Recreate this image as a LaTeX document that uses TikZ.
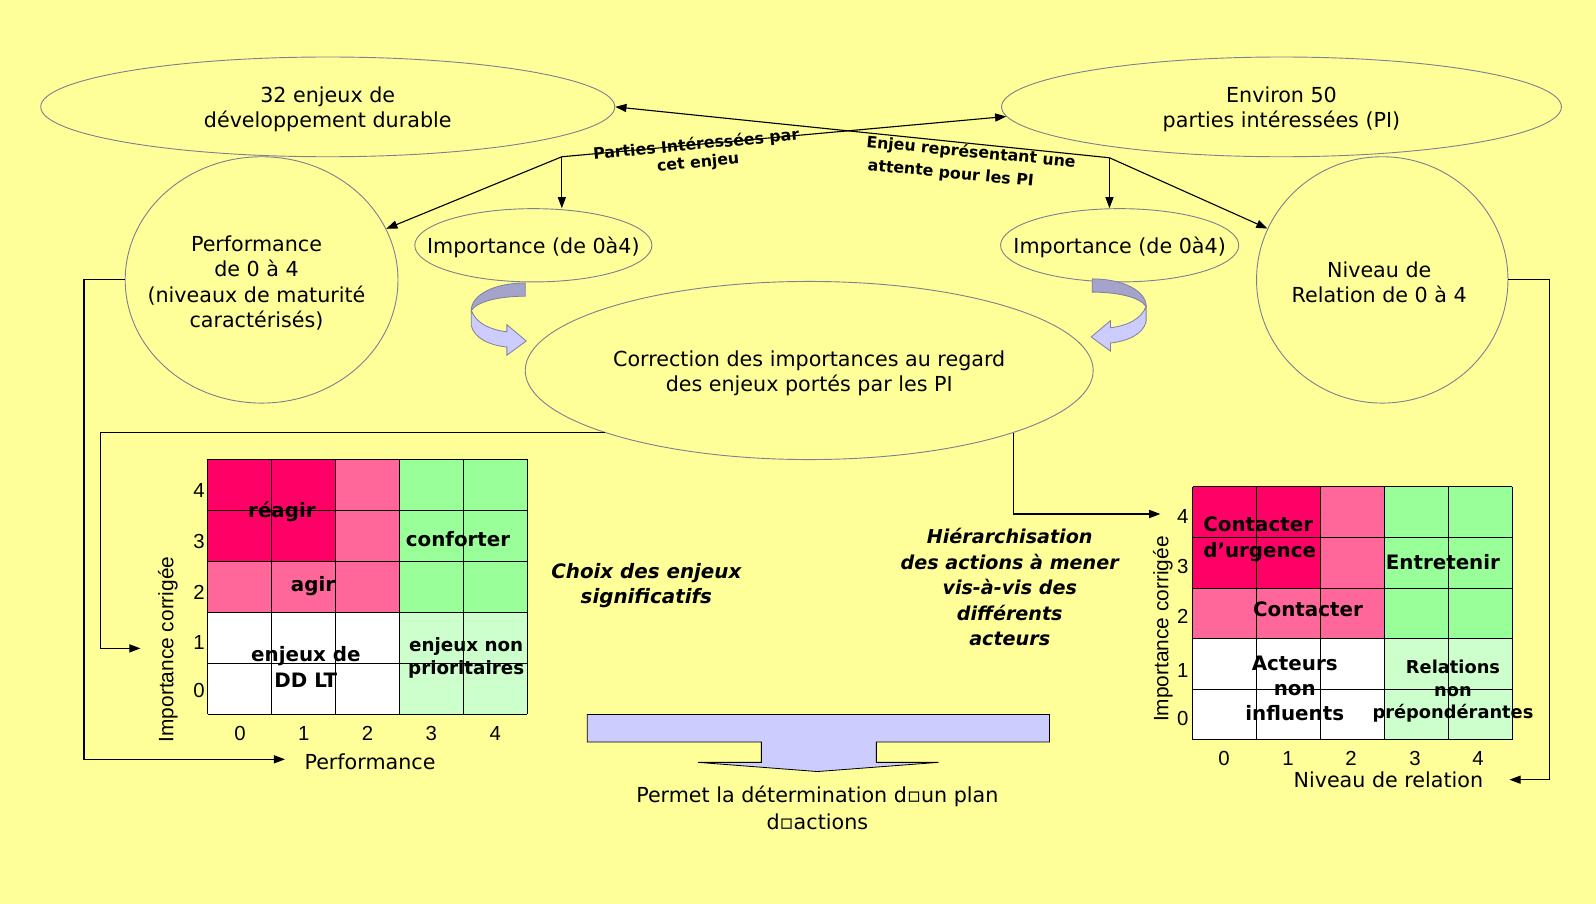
\documentclass[tikz,border=0pt]{standalone}
\usepackage{fontspec}
\setmainfont{DejaVu Sans}
\newfontfamily\arialf{Liberation Sans}
\usetikzlibrary{shapes.geometric,arrows.meta,calc}
\definecolor{bg}{HTML}{FFFF99}
\definecolor{hot}{HTML}{FF0066}
\definecolor{pnk}{HTML}{FF6699}
\definecolor{grn}{HTML}{99FF99}
\definecolor{lgrn}{HTML}{CCFFCC}
\definecolor{ellc}{HTML}{80808F}
\definecolor{arrd}{HTML}{A3A3CC}
\definecolor{arrl}{HTML}{CCCCFF}
\definecolor{arre}{HTML}{7F7F9F}
\newcommand\mycurvarrow{%
  \filldraw[fill=arrd, draw=arre, line width=0.8pt] (516,278) -- (516,291) .. controls (494,291) and (470,295) .. (463,305) .. controls (463,290) and (485,278) .. (516,278) -- cycle;
  \filldraw[fill=arrl, draw=arre, line width=0.8pt] (463,305) -- (463,320) .. controls (466,332) and (480,339) .. (498,341) -- (498,349) -- (517,335) -- (498,319) -- (498,326) .. controls (482,324) and (468,318) .. (463,305) -- cycle;}
\newcommand\mymatrix{%
  \fill[hot] (0,0) rectangle (2,2);
  \fill[pnk] (2,0) rectangle (3,2);
  \fill[pnk] (0,2) rectangle (3,3);
  \fill[grn] (3,0) rectangle (5,3);
  \fill[white] (0,3) rectangle (3,5);
  \fill[lgrn] (3,3) rectangle (5,5);
  \foreach \i in {0,...,5} {\draw[gline] (\i,0) -- (\i,5); \draw[gline] (0,\i) -- (5,\i);}}
\begin{document}
\begin{tikzpicture}[x=1pt,y=-1pt,
  bub/.style={ellipse, draw=ellc, fill=bg, line width=0.9pt, inner sep=0pt},
  txt/.style={font=\fontsize{20.3}{25}\selectfont, align=center, inner sep=0pt, yshift=-2.5pt},
  glab/.style={font=\fontsize{19.5}{25}\selectfont\bfseries, inner sep=0pt},
  num/.style={font=\arialf\fontsize{20}{22}\selectfont, inner sep=0pt},
  ylab/.style={font=\arialf\fontsize{20.5}{22}\selectfont, inner sep=0pt, rotate=90},
  rlab/.style={font=\fontsize{15.5}{18}\selectfont\bfseries, inner sep=0pt},
  itl/.style={font=\fontsize{19.5}{25}\selectfont\bfseries\itshape, align=center, inner sep=0pt},
  gline/.style={draw=black, line width=0.9pt},
  conn/.style={draw=black, line width=1.1pt, -{Triangle[length=11pt,width=8pt]}}]
\useasboundingbox (0,0) rectangle (1568,888);
\fill[bg] (0,0) rectangle (1568,888);

% bubbles
\node[bub, minimum width=564pt, minimum height=98pt] (enj) at (322,105) {};
\node[bub, minimum width=550pt, minimum height=98pt] (pi) at (1259,105) {};
\node[bub, minimum width=268pt, minimum height=242pt] (perf) at (257,275) {};
\node[bub, minimum width=247pt, minimum height=242pt] (niv) at (1358,275) {};
\node[bub, minimum width=233pt, minimum height=72pt] (imL) at (524,241) {};
\node[bub, minimum width=234pt, minimum height=72pt] (imR) at (1100,241) {};
\node[bub, minimum width=558pt, minimum height=175pt] (corr) at (795,364) {};

\node[txt] (enjT) at (enj) {32 enjeux de\\développement durable};
\node[txt] (piT) at (pi) {Environ 50\\parties intéressées (PI)};
\node[txt] (perfT) at (252,275.5) {Performance\\de 0 à 4\\(niveaux de maturité\\caractérisés)};
\node[txt] (nivT) at (1355,275) {Niveau de\\Relation de 0 à 4};
\node[txt] (imLT) at (imL) {Importance (de 0à4)};
\node[txt] (imRT) at (imR) {Importance (de 0à4)};
\node[txt] (corrT) at (corr) {Correction des importances au regard\\des enjeux portés par les PI};

% top connectors
\coordinate (j1) at (552,154);
\coordinate (j2) at (1090,155);
\draw[conn] (j1) -- (pi.182);
\draw[conn] (j2) -- (enj.east);
\draw[conn] (j1) -- (j1 |- imL.north);
\draw[conn] (j1) -- (perf);
\draw[conn] (j2) -- (j2 |- imR.north);
\draw[conn] (j2) -- (niv);
\node[rlab, rotate=5.5] (lab1a) at (684,142.5) {Parties Intéressées par};
\node[rlab, rotate=5.5] (lab1b) at (686,160.5) {cet enjeu};
\node[rlab, rotate=-5.5] (lab2a) at (954,150) {Enjeu représentant une};
\node[rlab, rotate=-5.5] (lab2b) at (934,171) {attente pour les PI};

% curved arrows
\mycurvarrow
\begin{scope}[xshift=1589pt, xscale=-1, yshift=4pt]
\mycurvarrow
\end{scope}

% matrices
\begin{scope}[shift={(204.3,451)}, x=62.7pt, y=-50.1pt]
\mymatrix
\end{scope}
\begin{scope}[shift={(1172,478.4)}, x=62.7pt, y=-49.7pt]
\mymatrix
\end{scope}

% left matrix labels
\node[glab] (reagir) at (277,503) {réagir};
\node[glab] (conf) at (450,530) {conforter};
\node[glab] (agir) at (307.5,576) {agir};
\node[glab, align=center, font=\fontsize{19.5}{26}\selectfont\bfseries] (ddlt) at (300.5,655) {enjeux de\\DD LT};
\node[glab, align=center, font=\fontsize{18}{22.5}\selectfont\bfseries] (nonprio) at (458,646) {enjeux non\\prioritaires};
\foreach \v/\y in {4/482,3/531.5,2/581.6,1/631.7,0/678.8} \node[num] (yl\v) at (195.5,\y) {\v};
\foreach \v/\x in {0/235.7,1/298.4,2/361.1,3/423.8,4/486.5} \node[num] (xl\v) at (\x,721) {\v};
\node[ylab] (ylabL) at (165,638) {Importance corrigée};
\node[txt] (perfAx) at (363.5,745.5) {Performance};

% right matrix labels
\node[glab, align=left, anchor=west] (cu) at (1182,530) {Contacter\\d’urgence};
\node[glab] (entr) at (1417.6,552) {Entretenir};
\node[glab] (cont) at (1285,599) {Contacter};
\node[glab, align=center, font=\fontsize{19.5}{24.5}\selectfont\bfseries] (acteurs) at (1272,676) {Acteurs\\non\\influents};
\node[glab, align=center, font=\fontsize{17.5}{22.5}\selectfont\bfseries] (relat) at (1427.5,679) {Relations\\non\\prépondérantes};
\foreach \v/\y in {4/507,3/557,2/606,1/659,0/706} \node[num] (yr\v) at (1162,\y) {\v};
\foreach \v/\x in {0/1202.5,1/1265.3,2/1327.2,3/1390.1,4/1452} \node[num] (xr\v) at (\x,745) {\v};
\node[ylab] (ylabR) at (1142.5,618) {Importance corrigée};
\node[txt] (nivAx) at (1364,764) {Niveau de relation};

% side connectors
\coordinate (aPerf) at (280,746);
\coordinate (aGL) at (138,637);
\coordinate (aGR) at (1140,505);
\coordinate (aNiv) at (1483,766);
\draw[conn] (perf.west) -- ++(-40,0) |- (aPerf);
\draw[conn] (corr.197.4) -- ++(-496,0) |- (aGL);
\draw[conn] (corr.-17.6) |- (aGR);
\draw[conn] (niv.east) -- ++(40,0) |- (aNiv);

% middle texts
\node[itl] (choix) at (635,575.5) {Choix des enjeux\\significatifs};
\node[itl, font=\fontsize{18.8}{25}\selectfont\bfseries\itshape] (hier) at (992,577) {Hiérarchisation\\des actions à mener\\vis-à-vis des\\différents\\acteurs};

% bottom arrow
\filldraw[fill=arrl, draw=black, line width=0.8pt] (577,702) -- (1031,702) -- (1031,729) -- (861,729) -- (861,749) -- (922,749) -- (803,758) -- (686,749) -- (748,749) -- (748,729) -- (577,729) -- cycle;
\node[txt, font=\fontsize{20.3}{27}\selectfont] (plan) at (803,791) {Permet la détermination d▫un plan\\d▫actions};
\end{tikzpicture}
\end{document}
